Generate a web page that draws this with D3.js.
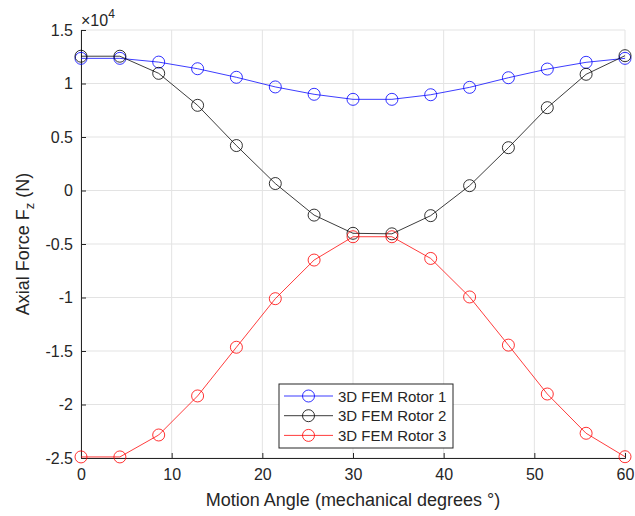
<!DOCTYPE html>
<html><head><meta charset="utf-8">
<script src="https://cdn.jsdelivr.net/npm/d3@7"></script>
<style>body{margin:0;background:#fff}svg{display:block}text{font-family:Arial,"Liberation Sans",Helvetica,sans-serif;fill:#262626}</style>
</head><body><svg id="c" width="635" height="516"></svg>
<script>
const angles = [0, 4.29, 8.57, 12.86, 17.14, 21.43, 25.71, 30, 34.29, 38.57, 42.86, 47.14, 51.43, 55.71, 60];
const rotor1 = [12350, 12350, 12000, 11380, 10580, 9680, 8990, 8520, 8520, 8950, 9640, 10540, 11350, 11980, 12350];
const rotor2 = [12550, 12550, 10950, 7960, 4200, 650, -2300, -4000, -4050, -2350, 450, 4000, 7740, 10860, 12600];
const rotor3 = [-24900, -24900, -22850, -19200, -14650, -10110, -6500, -4320, -4320, -6350, -9950, -14450, -19020, -22690, -24880];
const seriesNames = ["3D FEM Rotor 1", "3D FEM Rotor 2", "3D FEM Rotor 3"];
const seriesColors = ["#0000ff", "#000000", "#ff0000"];
const xTicks = [0, 10, 20, 30, 40, 50, 60];
const yTicks = [-25000, -20000, -15000, -10000, -5000, 0, 5000, 10000, 15000];
const yTickLabels = ["-2.5", "-2", "-1.5", "-1", "-0.5", "0", "0.5", "1", "1.5"];

const L = 81, T = 30, R = 625, B = 458;
const svg = d3.select("#c");
const x = d3.scaleLinear().domain([0, 60]).range([L, R]);
const y = d3.scaleLinear().domain([-25000, 15000]).range([B, T]);

// grid
const g = svg.append("g");
g.selectAll(".vx").data(xTicks).enter().append("line")
  .attr("x1", d => x(d)).attr("x2", d => x(d)).attr("y1", T).attr("y2", B)
  .attr("stroke", "#e3e3e3").attr("stroke-width", 1);
g.selectAll(".hy").data(yTicks).enter().append("line")
  .attr("y1", d => y(d)).attr("y2", d => y(d)).attr("x1", L).attr("x2", R)
  .attr("stroke", "#e3e3e3").attr("stroke-width", 1);

// axes
const xAxis = d3.axisBottom(x).tickValues(xTicks).tickSize(-5).tickPadding(11).tickFormat(d3.format("d"));
const yAxis = d3.axisLeft(y).tickValues(yTicks).tickSize(-5).tickPadding(8).tickFormat((d, i) => yTickLabels[i]);
const ax = svg.append("g").attr("transform", `translate(0,${B})`).call(xAxis);
const ay = svg.append("g").attr("transform", `translate(${L},0)`).call(yAxis);
[ax, ay].forEach(a => {
  a.select(".domain").attr("stroke", "#262626").attr("stroke-width", 1);
  a.selectAll(".tick line").attr("stroke", "#262626");
  a.selectAll(".tick text").attr("font-size", 16).attr("fill", "#262626")
   .style("font-family", "Arial, 'Liberation Sans', sans-serif");
});

// lines & markers
const series = [rotor1, rotor2, rotor3];
const line = d3.line().x((d, i) => x(angles[i])).y(d => y(d));
series.forEach((s, k) => {
  svg.append("path").datum(s).attr("d", line).attr("fill", "none")
    .attr("stroke", seriesColors[k]).attr("stroke-width", 0.9).attr("opacity", 0.85);
  svg.append("g").selectAll("circle").data(s).enter().append("circle")
    .attr("cx", (d, i) => x(angles[i])).attr("cy", d => y(d)).attr("r", 6)
    .attr("fill", "none").attr("stroke", seriesColors[k]).attr("stroke-width", 1).attr("opacity", 0.8);
});

// exponent
const ex = svg.append("text").attr("x", L).attr("y", 26).attr("font-size", 16);
ex.append("tspan").text("×10");
ex.append("tspan").attr("dy", -8).attr("font-size", 12).text("4");

// axis labels
svg.append("text").attr("x", (L + R) / 2).attr("y", 506).attr("text-anchor", "middle")
  .attr("font-size", 18).text("Motion Angle (mechanical degrees °)");
const yl = svg.append("text").attr("transform", `translate(29,${(T + B) / 2}) rotate(-90)`)
  .attr("text-anchor", "middle").attr("font-size", 18);
yl.append("tspan").text("Axial Force F");
yl.append("tspan").attr("dy", 5).attr("font-size", 13).text("z");
yl.append("tspan").attr("dy", -5).text(" (N)");

// legend
const lx = 279, ly = 384, lw = 174, lh = 64;
svg.append("rect").attr("x", lx).attr("y", ly).attr("width", lw).attr("height", lh)
  .attr("fill", "#fff").attr("stroke", "#262626").attr("stroke-width", 1);
seriesNames.forEach((n, k) => {
  const cy = ly + 12 + k * 19.7;
  svg.append("line").attr("x1", lx + 5).attr("x2", lx + 54).attr("y1", cy).attr("y2", cy)
    .attr("stroke", seriesColors[k]).attr("stroke-width", 0.9).attr("opacity", 0.85);
  svg.append("circle").attr("cx", lx + 29.5).attr("cy", cy).attr("r", 6).attr("fill", "none")
    .attr("stroke", seriesColors[k]).attr("stroke-width", 1).attr("opacity", 0.8);
  svg.append("text").attr("x", lx + 59).attr("y", cy + 5.5).attr("font-size", 15).text(n);
});
</script></body></html>
